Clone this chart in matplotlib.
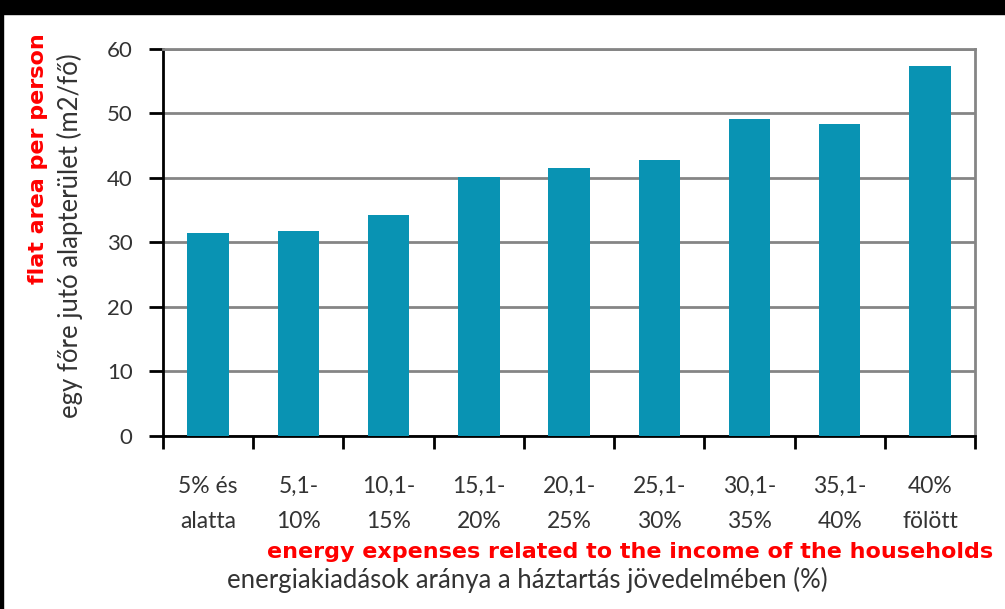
import numpy as np
import matplotlib.pyplot as plt
from matplotlib.patches import Rectangle

# share of energy spending in household income (categories) vs floor area per person
kategoriak = ['5% és\nalatta', '5,1-\n10%', '10,1-\n15%', '15,1-\n20%', '20,1-\n25%',
              '25,1-\n30%', '30,1-\n35%', '35,1-\n40%', '40%\nfölött']
alapterulet = [31.5, 31.7, 34.3, 40.2, 41.5, 42.8, 49.1, 48.4, 57.4]
y_ticks = [0, 10, 20, 30, 40, 50, 60]

bar_color = '#0993b3'
grid_color = '#858585'
text_color = '#333333'
gray_font = 'Lato'

fig = plt.figure(figsize=(10.05, 6.09), dpi=100)
fig.patch.set_facecolor('white')
ax = fig.add_axes([0.1622, 0.2846, 0.8080, 0.6350])

x = np.arange(len(kategoriak))
ax.bar(x, alapterulet, width=0.46, color=bar_color, zorder=3)

ax.set_xlim(-0.5, len(kategoriak) - 0.5)
ax.set_ylim(0, 60)
ax.set_yticks(y_ticks)
ax.set_yticklabels([str(v) for v in y_ticks], fontsize=16, family=gray_font,
                   color=text_color)
ax.yaxis.grid(True, color=grid_color, linewidth=2, zorder=0)

# category ticks sit between the bars, labels under the bar centres
ax.set_xticks(np.arange(-0.5, len(kategoriak)), minor=False)
ax.set_xticklabels([])
ax.set_xticks(x, minor=True)
ax.set_xticklabels(kategoriak, minor=True, fontsize=16.5, family=gray_font,
                   color=text_color, linespacing=1.8)
ax.tick_params(axis='x', which='major', direction='out', length=9, width=2,
               color='black')
ax.tick_params(axis='x', which='minor', length=0, pad=29)
ax.tick_params(axis='y', direction='out', length=10, width=2, pad=12)

for side in ['left', 'bottom']:
    ax.spines[side].set_color('black')
    ax.spines[side].set_linewidth(2)
for side in ['top', 'right']:
    ax.spines[side].set_color(grid_color)
    ax.spines[side].set_linewidth(2)

# axis titles: English in red, original Hungarian in gray
fig.text(0.038, 0.740, 'flat area per person', rotation=90, color='red',
         fontsize=16, fontweight='bold', ha='center', va='center')
fig.text(0.070, 0.6125, 'egy főre jutó alapterület (m2/fő)', rotation=90,
         color=text_color, fontsize=18.5, family=gray_font, ha='center', va='center')
fig.text(0.627, 0.093, 'energy expenses related to the income of the households',
         color='red', fontsize=16, fontweight='bold', ha='center', va='center')
fig.text(0.525, 0.047, 'energiakiadások aránya a háztartás jövedelmében (%)',
         color=text_color, fontsize=18.5, family=gray_font, ha='center', va='center')

# dark frame strips along the top and left edge
fig.patches.append(Rectangle((0, 1 - 14 / 609), 1, 14 / 609, transform=fig.transFigure,
                             color='black', zorder=10))
fig.patches.append(Rectangle((0, 0), 3 / 1005, 1, transform=fig.transFigure,
                             color='black', zorder=10))

plt.savefig('out.png', dpi=100)
